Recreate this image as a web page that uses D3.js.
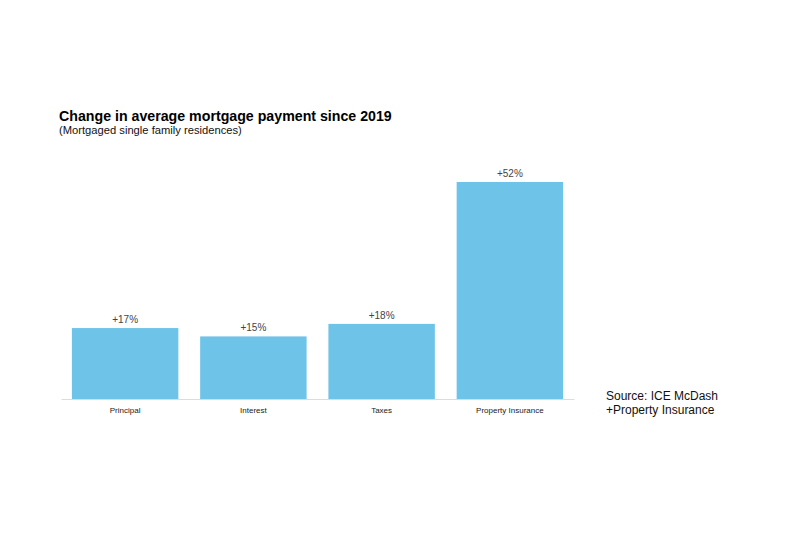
<!DOCTYPE html>
<html>
<head>
<meta charset="utf-8">
<script src="https://cdn.jsdelivr.net/npm/d3@7"></script>
<style>
    body { margin: 0; background: #fff; }
    text { font-family: "Liberation Sans", Arial, sans-serif; }
</style>
</head>
<body>
<svg id="chart" width="800" height="553"></svg>
<script>
// chart data
const categories = ["Principal", "Interest", "Taxes", "Property Insurance"];
const changes = [17, 15, 18, 52];
const valueLabels = ["+17%", "+15%", "+18%", "+52%"];

const svg = d3.select("#chart");

const x = d3.scaleBand().domain(categories).range([61, 574]).paddingInner(0.17).paddingOuter(0.085);
const y = d3.scaleLinear().domain([0, 52]).range([399, 182]);

// title
svg.append("text").attr("x", 59).attr("y", 121)
    .style("font-size", "14.2px").style("font-weight", "bold").attr("fill", "#000")
    .text("Change in average mortgage payment since 2019");
svg.append("text").attr("x", 59).attr("y", 134)
    .style("font-size", "11.2px").attr("fill", "#111")
    .text("(Mortgaged single family residences)");

// bars
svg.selectAll("rect.bar").data(categories).enter().append("rect")
    .attr("class", "bar")
    .attr("x", d => x(d))
    .attr("width", x.bandwidth())
    .attr("y", (d, i) => y(changes[i]))
    .attr("height", (d, i) => y(0) - y(changes[i]))
    .attr("fill", "#6ec4e8");

// value labels
svg.selectAll("text.val").data(categories).enter().append("text")
    .attr("class", "val")
    .attr("x", d => x(d) + x.bandwidth() / 2)
    .attr("y", (d, i) => y(changes[i]) - 5)
    .attr("text-anchor", "middle")
    .style("font-size", "10px").attr("fill", "#444")
    .text((d, i) => valueLabels[i]);

// x axis
const xAxis = svg.append("g").attr("transform", "translate(0," + y(0) + ")")
    .call(d3.axisBottom(x).tickSize(0).tickPadding(8));
xAxis.select(".domain").attr("stroke", "#dcdcdc");
xAxis.selectAll("text").style("font-size", "8px").attr("fill", "#222")
    .style("font-family", "'Liberation Sans', Arial, sans-serif");

// source note
svg.append("text").attr("x", 606).attr("y", 400)
    .style("font-size", "12px").attr("fill", "#111")
    .text("Source: ICE McDash");
svg.append("text").attr("x", 606).attr("y", 414)
    .style("font-size", "12px").attr("fill", "#111")
    .text("+Property Insurance");
</script>
</body>
</html>
